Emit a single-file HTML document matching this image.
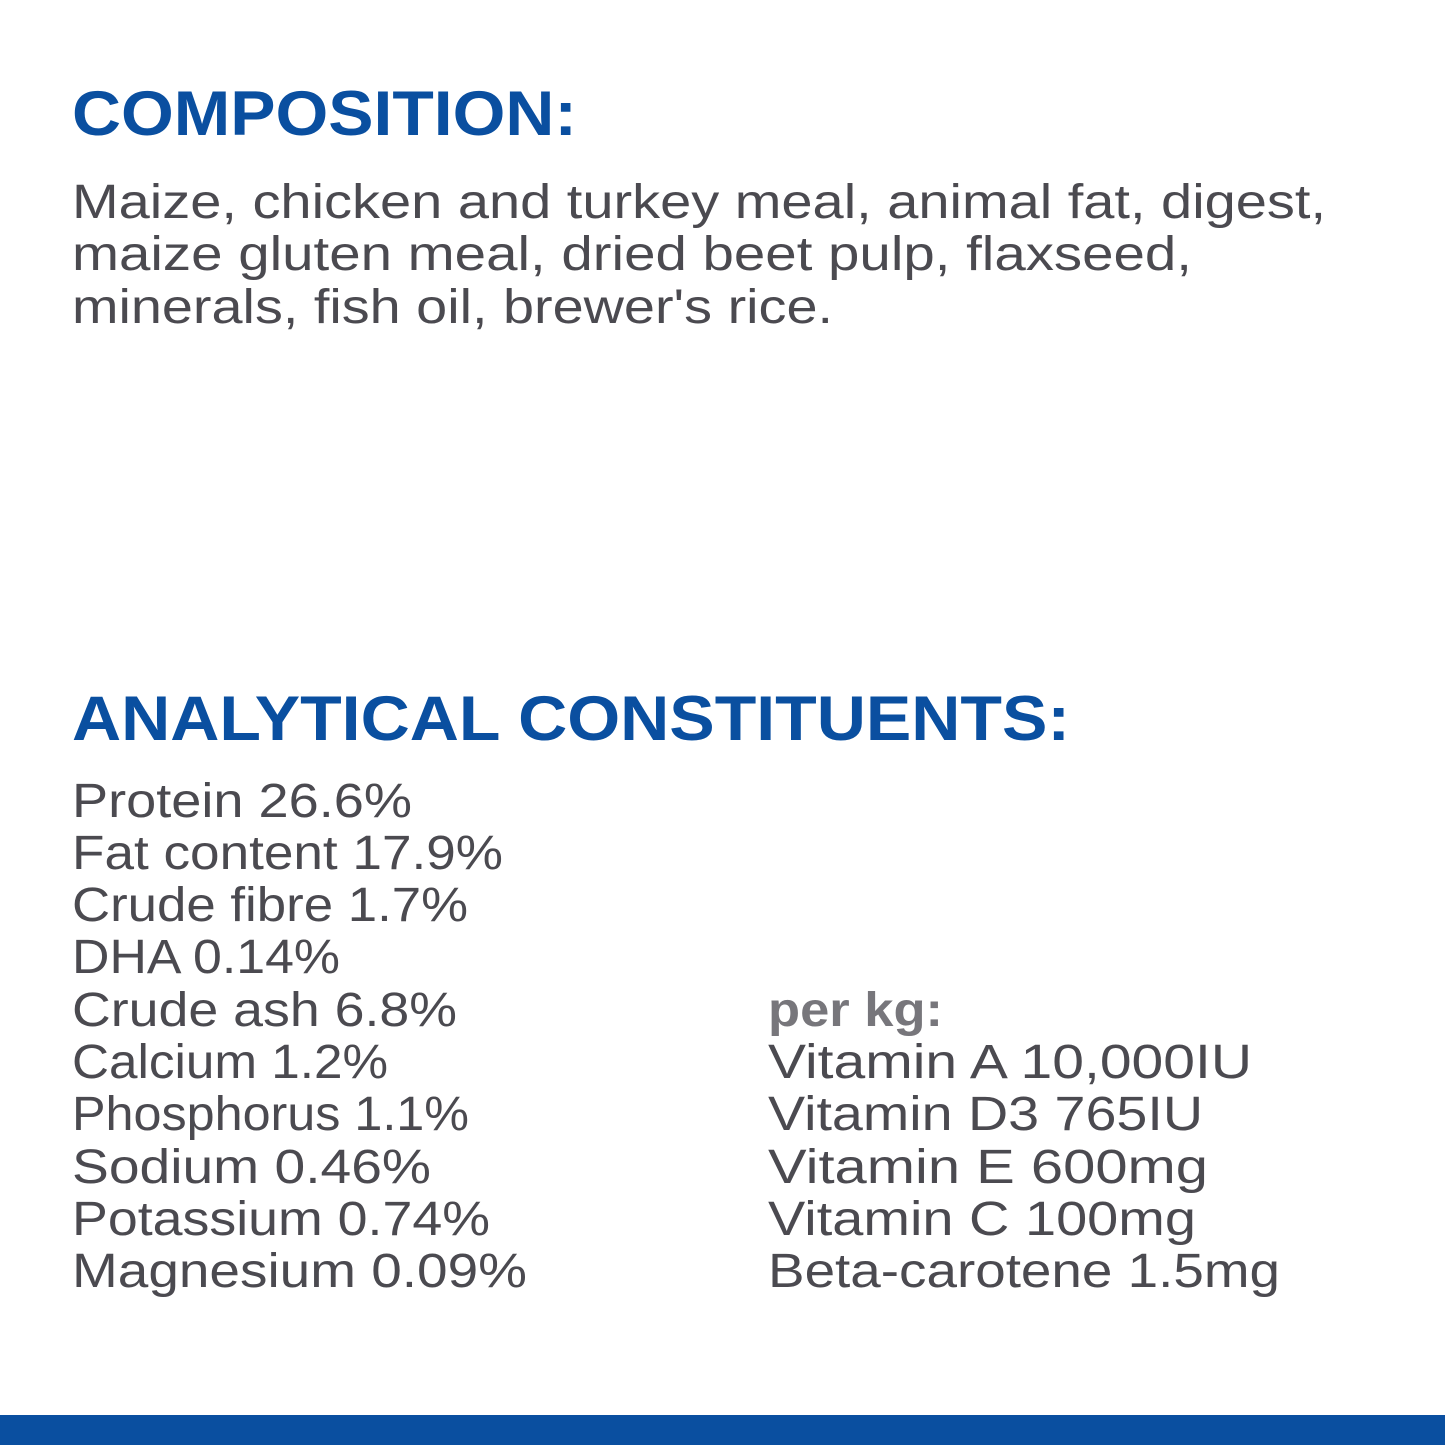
<!DOCTYPE html>
<html><head><meta charset="utf-8"><style>
html,body{margin:0;padding:0;background:#fff;}
svg{display:block}
.h{font-family:"Liberation Sans",sans-serif;font-weight:bold;fill:#0a4fa0;font-size:63px}
.t{font-family:"Liberation Sans",sans-serif;fill:#4b4a50;font-size:48px}
.b{font-family:"Liberation Sans",sans-serif;font-weight:bold;fill:#77767b;font-size:48px}
</style></head><body>
<svg width="1445" height="1445" viewBox="0 0 1445 1445" xmlns="http://www.w3.org/2000/svg">
<rect width="1445" height="1445" fill="#fff"/>
<text class="h" x="72" y="135" textLength="505" lengthAdjust="spacingAndGlyphs">COMPOSITION:</text>
<text class="t" x="72" y="218" textLength="1254" lengthAdjust="spacingAndGlyphs">Maize, chicken and turkey meal, animal fat, digest,</text>
<text class="t" x="72" y="270" textLength="1120" lengthAdjust="spacingAndGlyphs">maize gluten meal, dried beet pulp, flaxseed,</text>
<text class="t" x="72" y="323" textLength="761" lengthAdjust="spacingAndGlyphs">minerals, fish oil, brewer's rice.</text>
<text class="h" x="72" y="740" textLength="998" lengthAdjust="spacingAndGlyphs">ANALYTICAL CONSTITUENTS:</text>
<text class="t" x="72" y="817" textLength="340" lengthAdjust="spacingAndGlyphs">Protein 26.6%</text>
<text class="t" x="72" y="869" textLength="431" lengthAdjust="spacingAndGlyphs">Fat content 17.9%</text>
<text class="t" x="72" y="921" textLength="396" lengthAdjust="spacingAndGlyphs">Crude fibre 1.7%</text>
<text class="t" x="72" y="973" textLength="268" lengthAdjust="spacingAndGlyphs">DHA 0.14%</text>
<text class="t" x="72" y="1026" textLength="385" lengthAdjust="spacingAndGlyphs">Crude ash 6.8%</text>
<text class="t" x="72" y="1078" textLength="316" lengthAdjust="spacingAndGlyphs">Calcium 1.2%</text>
<text class="t" x="72" y="1130" textLength="397" lengthAdjust="spacingAndGlyphs">Phosphorus 1.1%</text>
<text class="t" x="72" y="1183" textLength="359" lengthAdjust="spacingAndGlyphs">Sodium 0.46%</text>
<text class="t" x="72" y="1235" textLength="418" lengthAdjust="spacingAndGlyphs">Potassium 0.74%</text>
<text class="t" x="72" y="1287" textLength="455" lengthAdjust="spacingAndGlyphs">Magnesium 0.09%</text>
<text class="b" x="768" y="1026" textLength="175" lengthAdjust="spacingAndGlyphs">per kg:</text>
<text class="t" x="768" y="1078" textLength="484" lengthAdjust="spacingAndGlyphs">Vitamin A 10,000IU</text>
<text class="t" x="768" y="1130" textLength="435" lengthAdjust="spacingAndGlyphs">Vitamin D3 765IU</text>
<text class="t" x="768" y="1183" textLength="440" lengthAdjust="spacingAndGlyphs">Vitamin E 600mg</text>
<text class="t" x="768" y="1235" textLength="428" lengthAdjust="spacingAndGlyphs">Vitamin C 100mg</text>
<text class="t" x="768" y="1287" textLength="512" lengthAdjust="spacingAndGlyphs">Beta-carotene 1.5mg</text>
<rect x="0" y="1415" width="1445" height="30" fill="#0a4fa0"/>
</svg>
</body></html>
